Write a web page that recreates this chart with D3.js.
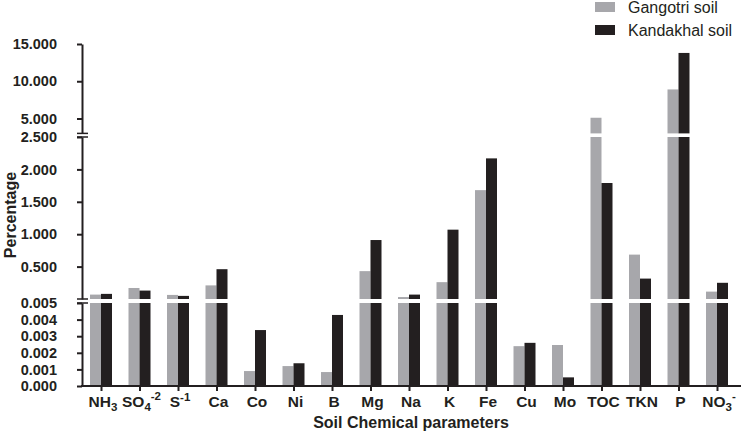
<!DOCTYPE html>
<html>
<head>
<meta charset="utf-8">
<script src="https://cdn.jsdelivr.net/npm/d3@7"></script>
<style>
  body { margin: 0; background: #fff; }
  svg text { font-family: "Liberation Sans", Arial, sans-serif; fill: #231f20; }
</style>
</head>
<body>
<div id="chart"></div>
<script>
// Data
var categories = ["NH3", "SO4-2", "S-1", "Ca", "Co", "Ni", "B", "Mg", "Na", "K", "Fe", "Cu", "Mo", "TOC", "TKN", "P", "NO3-"];
var labelBase = ["NH", "SO", "S", "Ca", "Co", "Ni", "B", "Mg", "Na", "K", "Fe", "Cu", "Mo", "TOC", "TKN", "P", "NO"];
var labelSub = ["3", "4", "", "", "", "", "", "", "", "", "", "", "", "", "", "", "3"];
var labelSup = ["", "-2", "-1", "", "", "", "", "", "", "", "", "", "", "", "", "", "-"];

var gangotri = [0.068, 0.17, 0.063, 0.21, 0.0009, 0.0012, 0.00084, 0.43, 0.03, 0.26, 1.68, 0.0024, 0.00247, 5.1, 0.685, 8.9, 0.114];
var kandakhal = [0.079, 0.13, 0.048, 0.46, 0.00337, 0.00137, 0.00428, 0.91, 0.068, 1.07, 2.17, 0.0026, 0.00052, 1.79, 0.315, 13.8, 0.25];

var seriesNames = ["Gangotri soil", "Kandakhal soil"];
var lowTicks = [0, 0.001, 0.002, 0.003, 0.004, 0.005];
var midTicks = [0.5, 1, 1.5, 2, 2.5];
var topTicks = [5, 10, 15];

// Set up the chart
// ==========================================
var svgWidth = 743;
var svgHeight = 432;
var colors = ["#a7a7ab", "#231f20"];
var barWidth = 11;

var svg = d3.select("#chart")
    .append("svg")
    .attr("width", svgWidth)
    .attr("height", svgHeight);

var axisX = 82;
var axisY = 386;

// x scale: one point per category
var xScale = d3.scalePoint()
    .domain(categories)
    .range([101, 717]);

// y axis is split in three pieces
var segments = [
    { scale: d3.scaleLinear().domain([0, 0.005]).range([386, 303]), ticks: lowTicks },
    { scale: d3.scaleLinear().domain([0, 2.5]).range([299, 137]), ticks: midTicks },
    { scale: d3.scaleLinear().domain([3, 15]).range([133.4, 44]), ticks: topTicks }
];

var rows = categories.map(function(c, i) {
    return { cat: c, values: [gangotri[i], kandakhal[i]] };
});

// bars, drawn piece by piece
segments.forEach(function(seg) {
    var d0 = seg.scale.domain()[0], d1 = seg.scale.domain()[1];
    var g = svg.append("g");
    rows.forEach(function(row) {
        row.values.forEach(function(v, s) {
            if (v <= d0) return;
            var top = seg.scale(Math.min(v, d1));
            var h = seg.scale(d0) - top;
            // too small to show in this piece
            if (h < 1) return;
            g.append("rect")
                .attr("x", xScale(row.cat) - barWidth + s * barWidth)
                .attr("y", top)
                .attr("width", barWidth)
                .attr("height", h)
                .attr("fill", colors[s]);
        });
    });

    // axis piece
    var axis = d3.axisLeft(seg.scale)
        .tickValues(seg.ticks)
        .tickSizeInner(5)
        .tickSizeOuter(0)
        .tickFormat(d3.format(".3f"));
    var ag = svg.append("g")
        .attr("transform", `translate(${axisX}, 0)`)
        .call(axis);
    ag.select(".domain").attr("stroke", "#231f20").attr("stroke-width", 2);
    ag.selectAll(".tick line").attr("stroke", "#231f20").attr("stroke-width", 2);
    ag.selectAll(".tick text")
        .attr("x", -25)
        .style("font-size", "14.5px")
        .style("font-weight", "bold");
});

// break marks on the y axis
[133.4, 137, 299, 303].forEach(function(y) {
    svg.append("line")
        .attr("x1", axisX - 5)
        .attr("x2", axisX + 6)
        .attr("y1", y)
        .attr("y2", y)
        .attr("stroke", "#231f20")
        .attr("stroke-width", 1.5);
});

// x axis
var bottomAxis = d3.axisBottom(xScale)
    .tickSizeInner(5)
    .tickSizeOuter(0)
    .tickFormat("");
var xg = svg.append("g")
    .attr("transform", `translate(0, ${axisY})`)
    .call(bottomAxis);
xg.select(".domain").remove();
xg.selectAll(".tick line").attr("stroke", "#231f20").attr("stroke-width", 2);

svg.append("line")
    .attr("x1", axisX - 1)
    .attr("x2", 741)
    .attr("y1", axisY)
    .attr("y2", axisY)
    .attr("stroke", "#231f20")
    .attr("stroke-width", 2);

// category labels with sub / superscripts
categories.forEach(function(c, i) {
    var t = svg.append("text")
        .attr("x", xScale(c) + 2)
        .attr("y", 407)
        .attr("text-anchor", "middle")
        .style("font-size", "15.5px")
        .style("font-weight", "bold");
    t.append("tspan").text(labelBase[i]);
    if (labelSub[i]) {
        t.append("tspan").attr("dy", 4).style("font-size", "11.5px").text(labelSub[i]);
    }
    if (labelSup[i]) {
        t.append("tspan").attr("dy", labelSub[i] ? -11 : -6).style("font-size", "11.5px").text(labelSup[i]);
    }
});

// Text for x-axis
svg.append("text")
    .attr("x", 411)
    .attr("y", 428)
    .attr("text-anchor", "middle")
    .style("font-size", "16px")
    .style("font-weight", "bold")
    .text("Soil Chemical parameters");

// Text for y-axis
svg.append("text")
    .attr("transform", "translate(16, 215) rotate(-90)")
    .attr("text-anchor", "middle")
    .style("font-size", "16px")
    .style("font-weight", "bold")
    .text("Percentage");

// legend
var legend = svg.append("g");
seriesNames.forEach(function(name, i) {
    legend.append("rect")
        .attr("x", 595)
        .attr("y", 2 + i * 23)
        .attr("width", 20)
        .attr("height", 10)
        .attr("fill", colors[i]);
    legend.append("text")
        .attr("x", 628)
        .attr("y", 12.5 + i * 23)
        .style("font-size", "16px")
        .text(name);
});
</script>
</body>
</html>
